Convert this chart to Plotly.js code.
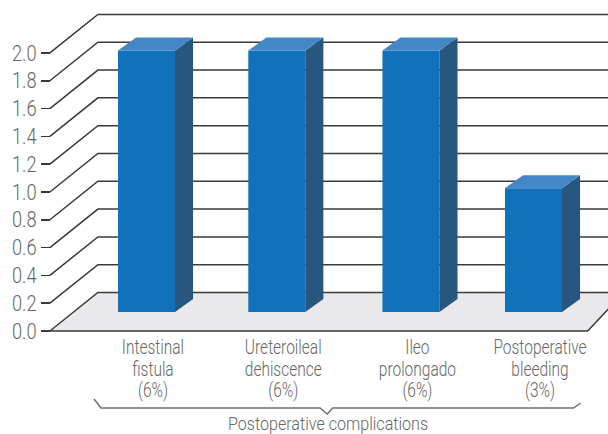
<!DOCTYPE html>
<html>
<head>
<meta charset="utf-8">
<script src="https://cdn.plot.ly/plotly-3.0.0.min.js"></script>
<style>html,body{margin:0;padding:0;background:#fff}#chart{width:608px;height:434px}</style>
</head>
<body>
<div id="chart"></div>
<script>
// Postoperative complications, drawn as a pseudo-3D column chart
const categories = ['Intestinal<br>fistula<br>(6%)', 'Ureteroileal<br>dehiscence<br>(6%)', 'Ileo<br>prolongado<br>(6%)', 'Postoperative<br>bleeding<br>(3%)'];
const values = [1.88, 1.88, 1.88, 0.89];
const slots = [0, 1.01, 2.05, 3];
const yTicks = [0, 0.2, 0.4, 0.6, 0.8, 1.0, 1.2, 1.4, 1.6, 1.8, 2.0];
const yTickText = ['0.0', '0.2', '0.4', '0.6', '0.8', '1.0', '1.2', '1.4', '1.6', '1.8', '2.0'];

// Axis windows and the oblique projection, in axis units
const xRange = [-1.1357, 3.5775];
const yRange = [-0.741, 2.381];
const axisX = -0.7488;         // where the front of the value axis stands
const wallDx = 0.372, wallDy = 0.277;   // depth of the floor
const barW = 0.442, barDx = 0.14, barDy = 0.0935;  // bar width and bar depth
const barBase = 0.137;         // bars stand midway across the floor
const labelShift = 0.05;       // labels sit under the middle of the solid

const ink = '#3a3a3a', textInk = '#666666';
const lightFont = 'Roboto, "Liberation Sans", sans-serif';
const path = pts => 'M' + pts.map(p => p[0] + ' ' + p[1]).join(' L');

const wallLines = yTicks.map(t => ({
  type: 'path', xref: 'x', yref: 'y', layer: 'below',
  path: path([[axisX, t], [axisX + wallDx, t + wallDy], [xRange[1], t + wallDy]]),
  line: {color: ink, width: 1.5}
}));

const floor = {
  type: 'path', xref: 'x', yref: 'y', layer: 'below',
  path: path([[axisX, 0], [axisX + wallDx, wallDy], [3.7, wallDy], [3.42, 0]]) + ' Z',
  fillcolor: '#e9e9eb', line: {width: 0}
};
const floorEdge = {
  type: 'path', xref: 'x', yref: 'y', layer: 'below',
  path: path([[axisX, 0], [3.42, 0], [3.7, wallDy]]),
  line: {color: ink, width: 1.5}
};
const bracket = {
  type: 'path', xref: 'x', yref: 'y',
  path: path([[-0.407, -0.489], [-0.3527, -0.554], [1.345, -0.554], [1.401, -0.597], [1.443, -0.554], [3.31, -0.554], [3.365, -0.518]]),
  line: {color: '#6e6e6e', width: 1.5}
};

// Front faces come from a bar trace; side and top faces follow the same values
const front = {
  type: 'bar', x: slots, y: values, base: values.map(() => barBase), width: barW,
  marker: {color: '#0f72ba', line: {width: 0}}, hoverinfo: 'skip', showlegend: false
};
const faces = [];
slots.forEach((s, i) => {
  const l = s - barW / 2, r = s + barW / 2, top = barBase + values[i];
  faces.push({
    type: 'scatter', mode: 'lines', fill: 'toself', fillcolor: '#27567f', line: {width: 0},
    x: [r, r + barDx, r + barDx, r, r], y: [barBase, barBase + barDy, top + barDy, top, barBase],
    hoverinfo: 'skip', showlegend: false
  });
  faces.push({
    type: 'scatter', mode: 'lines', fill: 'toself', fillcolor: '#4487c7', line: {width: 0},
    x: [l, r, r + barDx, l + barDx, l], y: [top, top, top + barDy, top + barDy, top],
    hoverinfo: 'skip', showlegend: false
  });
});

const layout = {
  width: 608, height: 434,
  margin: {l: 0, r: 0, t: 0, b: 0},
  paper_bgcolor: '#fff', plot_bgcolor: 'rgba(0,0,0,0)',
  showlegend: false,
  xaxis: {
    range: xRange, anchor: 'free', position: (0 - yRange[0]) / (yRange[1] - yRange[0]),
    showgrid: false, zeroline: false, showline: false,
    tickmode: 'array', tickvals: slots.map(s => s + labelShift), ticktext: categories,
    ticks: '', ticklabelstandoff: 2, tickangle: 0,
    tickfont: {family: lightFont, weight: 300, size: 20, color: textInk}
  },
  yaxis: {
    range: yRange, anchor: 'free', position: (axisX - xRange[0]) / (xRange[1] - xRange[0]),
    showgrid: false, zeroline: false, showline: false,
    tickmode: 'array', tickvals: yTicks, ticktext: yTickText,
    ticks: 'outside', ticklen: 9, tickwidth: 1.5, tickcolor: ink, ticklabelstandoff: 0,
    tickfont: {family: lightFont, weight: 300, size: 22, color: textInk}
  },
  shapes: [floor, ...wallLines, floorEdge, bracket],
  annotations: [{
    xref: 'x', yref: 'y', x: 1.41, y: -0.672, showarrow: false,
    xanchor: 'center', yanchor: 'middle',
    text: 'Postoperative complications',
    font: {family: lightFont, weight: 300, size: 18.5, color: textInk}
  }]
};

// Condense a text horizontally about a pivot so the labels read as a narrow face
function condense(node, factor, pivot) {
  const box = node.getBBox();
  const px = pivot === 'right' ? box.x + box.width : box.x + box.width / 2;
  const old = node.getAttribute('transform') || '';
  node.setAttribute('transform', `${old} translate(${px} 0) scale(${factor} 1) translate(${-px} 0)`);
}

Plotly.newPlot('chart', [front, ...faces], layout, {displayModeBar: false, staticPlot: true}).then(gd => {
  gd.querySelectorAll('.xtick text').forEach(t => {
    t.querySelectorAll('tspan.line').forEach((line, i) => { if (i > 0) line.setAttribute('dy', 21.6 * i); });
    condense(t, 0.775, 'center');
  });
  gd.querySelectorAll('.ytick text').forEach(t => condense(t, 0.83, 'right'));
  gd.querySelectorAll('.annotation-text').forEach(t => condense(t, 0.87, 'center'));
});
</script>
</body>
</html>
